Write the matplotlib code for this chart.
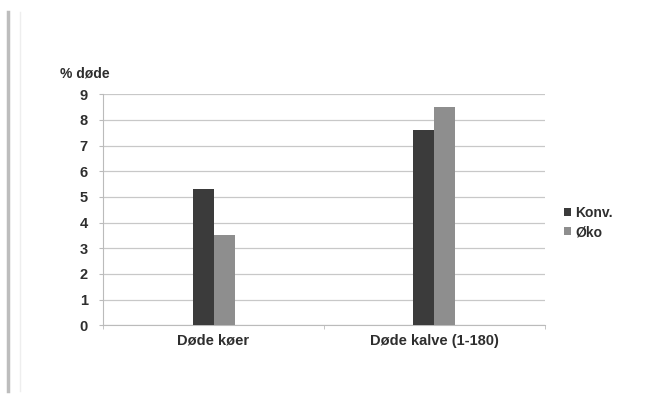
import numpy as np
import matplotlib
matplotlib.use("Agg")
import matplotlib.pyplot as plt
from matplotlib.lines import Line2D

plt.rcParams['font.family'] = ['Liberation Sans', 'DejaVu Sans']
plt.rcParams['font.weight'] = 'bold'

# data
categories = ["Døde køer", "Døde kalve (1-180)"]
konv = [5.3, 7.6]
oko = [3.5, 8.5]
series_names = ["Konv.", "Øko"]

fig = plt.figure(figsize=(6.48, 3.99), dpi=100)
ax = fig.add_axes([0.159, 0.185, 0.682, 0.579])

x = np.arange(len(categories))
w = 0.095
ax.bar(x - w / 2, konv, w, color="#3b3b3b", label=series_names[0], zorder=3)
ax.bar(x + w / 2, oko, w, color="#8e8e8e", label=series_names[1], zorder=3)

ax.set_xlim(-0.5, 1.5)
ax.set_ylim(0, 9)
ax.set_yticks(range(0, 10))
ax.yaxis.grid(True, color="#c8c8c8", linewidth=0.9, zorder=0)
ax.set_xticks(x)
ax.set_xticklabels(categories, fontsize=10.5, color="#2e2e2e")
ax.tick_params(axis="x", length=0, pad=6)
ax.tick_params(axis="y", length=3, color="#bbbbbb", labelsize=10.5, labelcolor="#2e2e2e", pad=8)
ax.set_xticks([-0.5, 0.5, 1.5], minor=True)
ax.tick_params(axis="x", which="minor", length=3, color="#bbbbbb")

for s in ["top", "right"]:
    ax.spines[s].set_visible(False)
ax.spines["left"].set_color("#bbbbbb")
ax.spines["bottom"].set_color("#bbbbbb")

fig.text(0.092, 0.805, "% døde", fontsize=10, color="#2e2e2e")

ax.legend(loc="center left", bbox_to_anchor=(1.015, 0.445), frameon=False,
          fontsize=10, handlelength=0.5, handleheight=0.5, handletextpad=0.3,
          labelspacing=0.4, labelcolor="#2e2e2e")

# scanned page border at the left
fig.add_artist(Line2D([0.013, 0.013], [0.02, 0.97], color="#bdbdbd", linewidth=2.5))
fig.add_artist(Line2D([0.031, 0.031], [0.02, 0.97], color="#eeeeee", linewidth=1))

fig.savefig("out.png", dpi=100)
